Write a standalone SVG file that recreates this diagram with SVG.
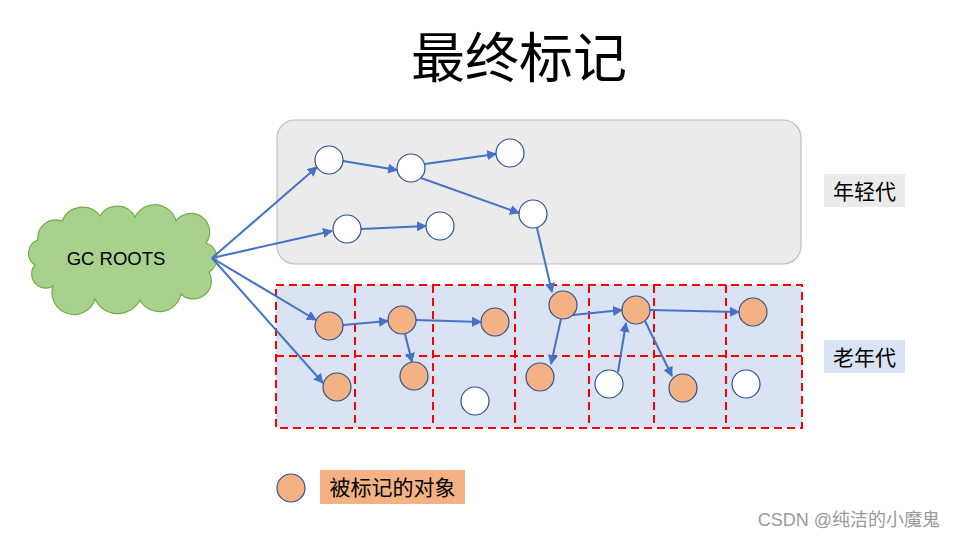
<svg xmlns="http://www.w3.org/2000/svg" width="957" height="538" viewBox="0 0 957 538">
<defs>
<marker id="ah" viewBox="0 0 10 10" refX="9" refY="5" markerWidth="10" markerHeight="10" markerUnits="userSpaceOnUse" orient="auto">
<path d="M0,0 L10,5 L0,10 z" fill="#4472c4"/>
</marker>
<style>
.w{fill:#fff;stroke:#2f528f;stroke-width:1.2}
.o{fill:#f4b183;stroke:#2f528f;stroke-width:1.2}
.e{stroke:#4472c4;stroke-width:2;fill:none;marker-end:url(#ah)}
.d{stroke:#ff0000;stroke-width:2;stroke-dasharray:8,5;fill:none}
.t{font-family:"Liberation Sans","Noto Sans CJK SC",sans-serif;fill:#000}
</style>
</defs>
<rect width="957" height="538" fill="#fff"/>
<text class="t" x="519" y="78" font-size="54" text-anchor="middle">最终标记</text>

<g id="young">
<rect x="277" y="120" width="524" height="144" rx="18" fill="#ebebeb" stroke="#bfbfbf" stroke-width="1.2"/>
</g>
<g id="old">
<rect x="276" y="285" width="526" height="143" rx="6" fill="#dae3f3"/>
<path class="d" d="M276,285 H802 V428 H276 Z M276,356 H802 M355,285 V428 M433,285 V428 M515,285 V428 M589,285 V428 M654,285 V428 M726,285 V428"/>
</g>

<g id="gcroots">
<path d="M38,240 A18,18 0 0 1 62,221 A22,22 0 0 1 100,216 A20,20 0 0 1 135,217 A22,22 0 0 1 176,221 A18,18 0 0 1 206,243 A16,16 0 0 1 209,272 A18,18 0 0 1 181,294 A22,22 0 0 1 140,300 A25,25 0 0 1 95,299 A20,20 0 0 1 53,286 A14,14 0 0 1 35,265 A14,14 0 0 1 38,240 Z" fill="#a9d18e" stroke="#70ad47" stroke-width="1.2"/>
<text class="t" x="116" y="265" font-size="18.5" text-anchor="middle">GC ROOTS</text>
</g>

<g id="connectors">
<line class="e" x1="212" y1="258" x2="317" y2="167"/>
<line class="e" x1="212" y1="258" x2="332" y2="231"/>
<line class="e" x1="212" y1="258" x2="316" y2="320"/>
<line class="e" x1="212" y1="258" x2="323" y2="383"/>
<line class="e" x1="343" y1="161" x2="397" y2="170"/>
<line class="e" x1="425" y1="164" x2="496" y2="154"/>
<line class="e" x1="421" y1="178" x2="519" y2="213"/>
<line class="e" x1="361" y1="229" x2="426" y2="226"/>
<line class="e" x1="537" y1="228" x2="552" y2="292"/>
<line class="e" x1="343" y1="325" x2="388" y2="321"/>
<line class="e" x1="416" y1="320" x2="481" y2="322"/>
<line class="e" x1="405" y1="334" x2="412" y2="362"/>
<line class="e" x1="561" y1="319" x2="551" y2="364"/>
<line class="e" x1="573" y1="315" x2="622" y2="310"/>
<line class="e" x1="618" y1="372" x2="626" y2="323"/>
<line class="e" x1="645" y1="321" x2="672" y2="376"/>
<line class="e" x1="650" y1="310" x2="739" y2="312"/>
</g>

<g id="n1"><circle class="w" cx="329" cy="160" r="14"/></g>
<g id="n2"><circle class="w" cx="411" cy="168" r="14"/></g>
<g id="n3"><circle class="w" cx="510" cy="153" r="14"/></g>
<g id="n4"><circle class="w" cx="533" cy="214" r="14"/></g>
<g id="n5"><circle class="w" cx="347" cy="229" r="14"/></g>
<g id="n6"><circle class="w" cx="440" cy="226" r="14"/></g>

<g id="o1"><circle class="o" cx="329" cy="326" r="14"/></g>
<g id="o2"><circle class="o" cx="402" cy="320" r="14"/></g>
<g id="o3"><circle class="o" cx="495" cy="322" r="14"/></g>
<g id="o4"><circle class="o" cx="337" cy="387" r="14"/></g>
<g id="o5"><circle class="o" cx="414" cy="376" r="14"/></g>
<g id="o6"><circle class="o" cx="563" cy="305" r="14"/></g>
<g id="o7"><circle class="o" cx="636" cy="310" r="14"/></g>
<g id="o8"><circle class="o" cx="753" cy="312" r="14"/></g>
<g id="o9"><circle class="o" cx="540" cy="377" r="14"/></g>
<g id="o10"><circle class="o" cx="683" cy="388" r="14"/></g>
<g id="w1"><circle class="w" cx="475" cy="401" r="14"/></g>
<g id="w2"><circle class="w" cx="609" cy="384" r="14"/></g>
<g id="w3"><circle class="w" cx="746" cy="384" r="14"/></g>

<g id="label-young">
<rect x="824" y="174" width="81" height="33" fill="#ebebeb"/>
<text class="t" x="864.5" y="198.5" font-size="21" text-anchor="middle">年轻代</text>
</g>
<g id="label-old">
<rect x="824" y="340" width="81" height="33" fill="#dae3f3"/>
<text class="t" x="864.5" y="364.5" font-size="21" text-anchor="middle">老年代</text>
</g>

<g id="legend">
<circle class="o" cx="291" cy="488" r="14"/>
<rect x="320" y="470" width="145" height="34" fill="#f4b183"/>
<text class="t" x="392.5" y="495" font-size="21" text-anchor="middle">被标记的对象</text>
</g>

<text x="940" y="526" font-size="18" text-anchor="end" fill="#9a9a9a" font-family="'Liberation Sans','Noto Sans CJK SC',sans-serif">CSDN @纯洁的小魔鬼</text>
</svg>
